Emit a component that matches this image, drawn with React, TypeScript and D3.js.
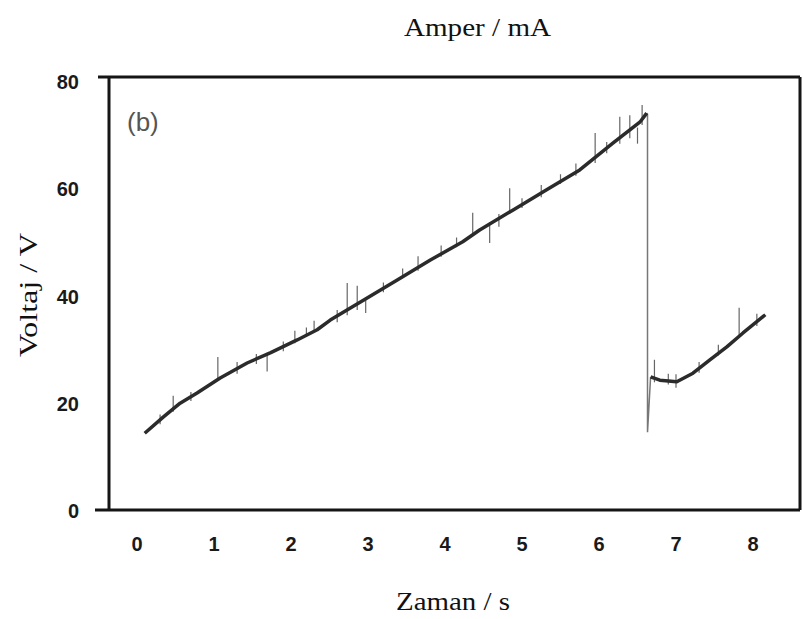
import React from "react";
import * as d3 from "d3";

// Main trace, segment before breakdown (time s, voltage V)
const seg1T = [0.10, 0.34, 0.56, 0.78, 1.08, 1.43, 1.73, 2.08, 2.34, 2.51, 2.94, 3.38, 3.81, 4.23, 4.45, 4.88, 5.32, 5.75, 6.18, 6.53, 6.62];
const seg1V = [14.5, 17.5, 20.1, 22.0, 24.8, 27.6, 29.5, 31.9, 33.8, 35.6, 39.3, 43.1, 46.8, 50.2, 52.4, 56.1, 59.9, 63.6, 68.6, 72.5, 74.2];
// Segment after breakdown
const seg2T = [6.67, 6.79, 7.01, 7.22, 7.44, 7.66, 7.87, 8.16];
const seg2V = [25.0, 24.4, 24.1, 25.7, 28.2, 30.6, 33.2, 36.6];
// Breakdown drop
const dropT = [6.62, 6.63, 6.63, 6.67];
const dropV = [74.2, 74.0, 14.7, 25.0];
// Noise spikes
const spikeT = [0.30, 0.47, 0.70, 1.05, 1.30, 1.55, 1.69, 1.90, 2.05, 2.20, 2.30, 2.60, 2.73, 2.86, 2.97, 3.20, 3.45, 3.65, 3.95, 4.15, 4.36, 4.58, 4.70, 4.84, 5.00, 5.25, 5.50, 5.70, 5.95, 6.10, 6.27, 6.40, 6.50, 6.56, 6.72, 6.90, 7.00, 7.30, 7.55, 7.82, 8.05];
const spikeLow = [16.2, 18.5, 20.5, 24.3, 25.6, 27.4, 26.0, 29.8, 31.3, 32.5, 33.3, 35.2, 36.5, 37.5, 36.9, 40.8, 43.5, 44.8, 47.4, 49.2, 51.5, 50.0, 53.0, 55.5, 56.5, 58.5, 61.0, 62.5, 64.9, 66.7, 68.5, 69.5, 68.5, 72.0, 24.0, 23.6, 23.0, 25.8, 29.0, 32.5, 34.5];
const spikeHigh = [18.0, 21.5, 22.2, 28.7, 27.8, 29.3, 29.5, 31.6, 33.6, 34.2, 35.5, 37.5, 42.5, 42.0, 39.8, 42.6, 45.2, 47.5, 49.5, 51.0, 55.6, 53.8, 55.4, 60.2, 58.3, 60.8, 62.8, 64.8, 70.5, 68.8, 73.5, 73.8, 71.5, 75.7, 28.2, 25.6, 25.5, 27.8, 31.0, 37.9, 36.8];

const xTicks = [0, 1, 2, 3, 4, 5, 6, 7, 8];
const yTicks = [0, 20, 40, 60, 80];

const title = "Amper / mA";
const xTitle = "Zaman / s";
const yTitle = "Voltaj / V";
const panelLabel = "(b)";

export default function App() {
  const W = 803, H = 619;
  const x = d3.scaleLinear().domain([0, 8]).range([137, 753]);
  const y = d3.scaleLinear().domain([0, 80]).range([511, 82]);
  const line = d3.line<[number, number]>().x(d => x(d[0])).y(d => y(d[1]));
  const s1 = seg1T.map((t, i) => [t, seg1V[i]] as [number, number]);
  const s2 = seg2T.map((t, i) => [t, seg2V[i]] as [number, number]);
  const dr = dropT.map((t, i) => [t, dropV[i]] as [number, number]);

  const fL = 109, fR = 800, fT = 77, fB = 510;
  const sans = "'Liberation Sans', Arial, sans-serif";
  const serif = "'Liberation Serif', 'Times New Roman', serif";

  return (
    <svg width={W} height={H} style={{ position: "absolute", left: 0, top: 0, background: "#fff" }}>
      <rect x={0} y={0} width={W} height={H} fill="#fff" />
      <g stroke="#151515" strokeWidth={3} fill="none">
        <line x1={98} y1={fT} x2={fR} y2={fT} />
        <line x1={95} y1={fB} x2={fR} y2={fB} />
        <line x1={fL} y1={fT} x2={fL} y2={fB} />
        <line x1={fR} y1={fT} x2={fR} y2={fB} />
      </g>
      {yTicks.map(v => (
        <text key={"y" + v} x={79} y={y(v)} dy="0.36em" textAnchor="end" fontFamily={sans} fontWeight="bold" fontSize={20} fill="#1a1a1a">{v}</text>
      ))}
      {xTicks.map(v => (
        <text key={"x" + v} x={x(v)} y={551} textAnchor="middle" fontFamily={sans} fontWeight="bold" fontSize={20} fill="#1a1a1a">{v}</text>
      ))}
      <g stroke="#666" strokeWidth={1.2}>
        {spikeT.map((t, i) => (
          <line key={"s" + i} x1={x(t)} x2={x(t)} y1={y(spikeLow[i])} y2={y(spikeHigh[i])} />
        ))}
      </g>
      <path d={line(dr) || ""} fill="none" stroke="#777" strokeWidth={1.5} />
      <path d={line(s1) || ""} fill="none" stroke="#2b2b2b" strokeWidth={3.5} strokeLinejoin="round" />
      <path d={line(s2) || ""} fill="none" stroke="#2b2b2b" strokeWidth={3.5} strokeLinejoin="round" />
      <text x={127} y={131} fontFamily={sans} fontSize={26} fill="#555">{panelLabel}</text>
      <text x={404} y={36} fontFamily={serif} fontSize={26} fill="#111" textLength={147} lengthAdjust="spacingAndGlyphs">{title}</text>
      <text x={396} y={610} fontFamily={serif} fontSize={26} fill="#111" textLength={114} lengthAdjust="spacingAndGlyphs">{xTitle}</text>
      <text transform="translate(37,357) rotate(-90)" x={0} y={0} fontFamily={serif} fontSize={26} fill="#111" textLength={124} lengthAdjust="spacingAndGlyphs">{yTitle}</text>
    </svg>
  );
}
